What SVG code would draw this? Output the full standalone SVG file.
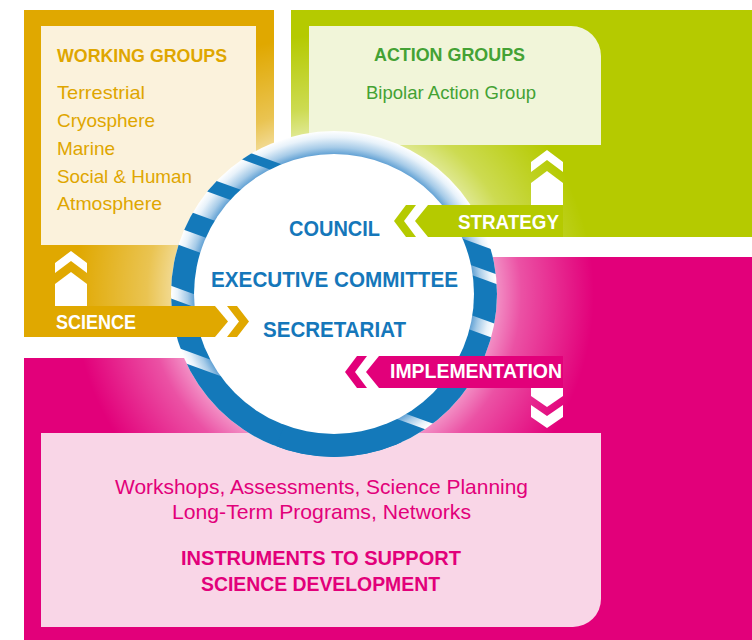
<svg xmlns="http://www.w3.org/2000/svg" xmlns:xlink="http://www.w3.org/1999/xlink" width="752" height="640" viewBox="0 0 752 640">
<style>
text{font-family:"Liberation Sans",Arial,sans-serif}
.b{font-weight:bold}
.gold{fill:#E0A800}
.green{fill:#B5CA00}
.mag{fill:#E2007A}
.wh{fill:#ffffff}
.blue{fill:#1479BA}
.tgold{fill:#DFA600;font-size:19px}
.tgreen{fill:#44A234;font-size:19px}
.tpink{fill:#E2007A;font-size:21px}
.tcirc{fill:#1577BA;font-size:22px;font-weight:bold}
.tban{fill:#ffffff;font-size:21px;font-weight:bold}
</style>
<defs>
<radialGradient id="glowG" gradientUnits="userSpaceOnUse" cx="334" cy="294" r="260">
<stop offset="0.6" stop-color="#fff" stop-opacity="0.7"/>
<stop offset="0.63" stop-color="#fff" stop-opacity="0.55"/>
<stop offset="0.72" stop-color="#fff" stop-opacity="0.32"/>
<stop offset="1" stop-color="#fff" stop-opacity="0"/>
</radialGradient>
<radialGradient id="ringG" gradientUnits="userSpaceOnUse" cx="334" cy="294" r="163">
<stop offset="0.855" stop-color="#5e9fd3"/>
<stop offset="0.9" stop-color="#a6cbe8"/>
<stop offset="0.96" stop-color="#e8f2fa"/>
<stop offset="1" stop-color="#ffffff"/>
</radialGradient>
<circle id="glow" cx="334" cy="294" r="260" fill="url(#glowG)"/>
<clipPath id="clipGold"><rect x="24" y="10" width="250" height="327"/></clipPath>
<clipPath id="clipGreen"><rect x="291" y="10" width="461" height="227"/></clipPath>
<clipPath id="clipMag"><path d="M24,358H291V257H752V640H24Z"/></clipPath>
<clipPath id="clipRing"><circle cx="334" cy="294" r="163"/></clipPath>
<g id="upArrow">
<polygon points="0,0 16,12 16,22 0,10 -16,22 -16,12"/>
<polygon points="0,21 16,33 16,55 -16,55 -16,33"/>
</g>
</defs>

<g id="working-groups">
<rect class="gold" x="24" y="10" width="250" height="327"/>
<use xlink:href="#glow" clip-path="url(#clipGold)"/>
<rect x="41" y="26" width="215" height="219" fill="#FBF2DC"/>
<text class="tgold b" x="57" y="62" font-size="20" textLength="170" lengthAdjust="spacingAndGlyphs">WORKING GROUPS</text>
<text class="tgold" x="57" y="99" textLength="88" lengthAdjust="spacingAndGlyphs">Terrestrial</text>
<text class="tgold" x="57" y="127" textLength="98" lengthAdjust="spacingAndGlyphs">Cryosphere</text>
<text class="tgold" x="57" y="155" textLength="58" lengthAdjust="spacingAndGlyphs">Marine</text>
<text class="tgold" x="57" y="182.5" textLength="135" lengthAdjust="spacingAndGlyphs">Social &amp; Human</text>
<text class="tgold" x="57" y="210" textLength="105" lengthAdjust="spacingAndGlyphs">Atmosphere</text>
</g>

<g id="action-groups">
<rect class="green" x="291" y="10" width="461" height="227"/>
<use xlink:href="#glow" clip-path="url(#clipGreen)"/>
<path d="M309,26H571A30,30 0 0 1 601,56V145H309Z" fill="#F1F5D9"/>
<text class="tgreen b" x="374" y="61" font-size="20" textLength="151" lengthAdjust="spacingAndGlyphs">ACTION GROUPS</text>
<text class="tgreen" x="366" y="98.5" textLength="170" lengthAdjust="spacingAndGlyphs">Bipolar Action Group</text>
</g>

<g id="instruments">
<path class="mag" d="M24,358H291V257H752V640H24Z"/>
<use xlink:href="#glow" clip-path="url(#clipMag)"/>
<path d="M41,433H601V599A28,28 0 0 1 573,627H41Z" fill="#F9D6E7"/>
<text class="tpink" x="115" y="494" textLength="413" lengthAdjust="spacingAndGlyphs">Workshops, Assessments, Science Planning</text>
<text class="tpink" x="172" y="519" textLength="299" lengthAdjust="spacingAndGlyphs">Long-Term Programs, Networks</text>
<text class="tpink b" x="181" y="565" textLength="280" lengthAdjust="spacingAndGlyphs">INSTRUMENTS TO SUPPORT</text>
<text class="tpink b" x="201" y="591" textLength="239" lengthAdjust="spacingAndGlyphs">SCIENCE DEVELOPMENT</text>
</g>

<g id="governance-ring">
<circle cx="334" cy="294" r="163" fill="url(#ringG)"/>
<g clip-path="url(#clipRing)">
<g class="blue" transform="translate(334,294) rotate(20)">
<rect x="-200" y="-104" width="200" height="9"/>
<rect x="-200" y="-66" width="200" height="13"/>
<rect x="-200" y="-28" width="200" height="19"/>
<rect x="-200" y="7" width="200" height="41"/>
<rect x="-200" y="60" width="200" height="44"/>
<rect x="-200" y="116" width="400" height="100"/>
<rect x="0" y="-96" width="200" height="22"/>
<rect x="0" y="-65" width="200" height="38"/>
<rect x="0" y="-13" width="200" height="101"/>
<rect x="-2" y="96" width="202" height="120"/>
</g>
</g>
<circle cx="334" cy="294" r="140" fill="#ffffff"/>
</g>

<g id="connectors">
<polygon class="gold" points="24,306 215,306 228,321.5 215,337 24,337"/>
<polygon class="gold" points="227,306 237,306 249,321.5 237,337 227,337 239,321.5"/>
<use xlink:href="#upArrow" class="wh" transform="translate(71,251)"/>
<polygon class="green" points="563,205 428,205 415,221 428,237 563,237"/>
<polygon class="green" points="394,221 406,205 416,205 404,221 416,237 406,237"/>
<use xlink:href="#upArrow" class="wh" transform="translate(547,150)"/>
<polygon class="mag" points="563,356 379,356 366,372 379,388 563,388"/>
<polygon class="mag" points="345,372 357,356 367,356 355,372 367,388 357,388"/>
<polygon class="wh" points="531,388 563,388 563,396 547,407 531,396"/>
<polygon class="wh" points="531,405 547,416 563,405 563,417 547,428 531,417"/>
<text class="tban" x="56" y="329" textLength="80" lengthAdjust="spacingAndGlyphs">SCIENCE</text>
<text class="tban" x="458" y="229" textLength="101" lengthAdjust="spacingAndGlyphs">STRATEGY</text>
<text class="tban" x="390" y="378" textLength="172" lengthAdjust="spacingAndGlyphs">IMPLEMENTATION</text>
</g>

<g id="governance-text">
<text class="tcirc" x="289" y="236" textLength="91" lengthAdjust="spacingAndGlyphs">COUNCIL</text>
<text class="tcirc" x="211" y="287" textLength="247" lengthAdjust="spacingAndGlyphs">EXECUTIVE COMMITTEE</text>
<text class="tcirc" x="263" y="337" textLength="143" lengthAdjust="spacingAndGlyphs">SECRETARIAT</text>
</g>
</svg>
